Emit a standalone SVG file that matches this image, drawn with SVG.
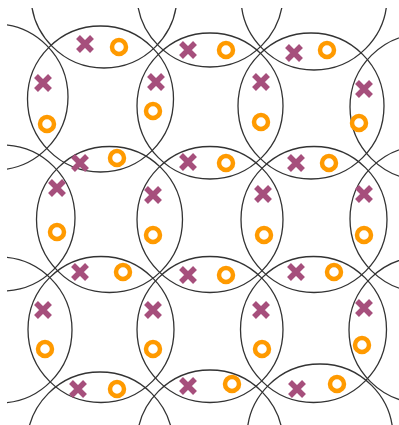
<svg xmlns="http://www.w3.org/2000/svg" width="399" height="425" viewBox="0 0 399 425">
<style>
.c{fill:none;stroke:#333;stroke-width:1.3}
.x{fill:none;stroke:#a64f7c;stroke-width:5.5}
.o{fill:none;stroke:#ff9a00;stroke-width:4.5}
</style>
<defs>
<clipPath id="clip"><rect x="7" y="8" width="392" height="417"/></clipPath>
<path id="xm" d="M-7,-7L7,7M7,-7L-7,7"/>
</defs>
<rect width="399" height="425" fill="#fff"/>
<g id="connectors" class="c" clip-path="url(#clip)">
<circle cx="104" cy="-5" r="73"/>
<circle cx="210" cy="-6" r="73"/>
<circle cx="314" cy="-3" r="73"/>
<circle cx="-5" cy="97" r="73"/>
<circle cx="100.5" cy="99" r="73"/>
<circle cx="210" cy="106" r="73"/>
<circle cx="311" cy="106" r="73"/>
<circle cx="423" cy="107" r="73"/>
<circle cx="2" cy="218" r="73"/>
<circle cx="109.5" cy="219.5" r="73"/>
<circle cx="210" cy="219.5" r="73"/>
<circle cx="314" cy="219.5" r="73"/>
<circle cx="423" cy="219" r="73"/>
<circle cx="-1" cy="330" r="73"/>
<circle cx="101" cy="329.5" r="73"/>
<circle cx="210" cy="329.5" r="73"/>
<circle cx="313.5" cy="329.5" r="73"/>
<circle cx="422" cy="330" r="73"/>
<circle cx="100" cy="445" r="73"/>
<circle cx="210" cy="443" r="73"/>
<circle cx="320" cy="437" r="73"/>
</g>
<g id="h0c0"><use href="#xm" class="x" x="85" y="44"/><circle class="o" cx="119" cy="47" r="7"/></g>
<g id="h0c1"><use href="#xm" class="x" x="188" y="50"/><circle class="o" cx="226" cy="50" r="7"/></g>
<g id="h0c2"><use href="#xm" class="x" x="294" y="53"/><circle class="o" cx="327" cy="50" r="7"/></g>
<g id="v0r0"><use href="#xm" class="x" x="43" y="83"/><circle class="o" cx="47" cy="124" r="7"/></g>
<g id="v1r0"><use href="#xm" class="x" x="156" y="82"/><circle class="o" cx="153" cy="111" r="7"/></g>
<g id="v2r0"><use href="#xm" class="x" x="261" y="82"/><circle class="o" cx="261" cy="122" r="7"/></g>
<g id="v3r0"><use href="#xm" class="x" x="364" y="89"/><circle class="o" cx="359" cy="123" r="7"/></g>
<g id="h1c0"><use href="#xm" class="x" x="80" y="163"/><circle class="o" cx="117" cy="158" r="7"/></g>
<g id="h1c1"><use href="#xm" class="x" x="188" y="162"/><circle class="o" cx="226" cy="163" r="7"/></g>
<g id="h1c2"><use href="#xm" class="x" x="296" y="163"/><circle class="o" cx="329" cy="163" r="7"/></g>
<g id="v0r1"><use href="#xm" class="x" x="57" y="188"/><circle class="o" cx="57" cy="232" r="7"/></g>
<g id="v1r1"><use href="#xm" class="x" x="153" y="195"/><circle class="o" cx="153" cy="235" r="7"/></g>
<g id="v2r1"><use href="#xm" class="x" x="263" y="194"/><circle class="o" cx="264" cy="235" r="7"/></g>
<g id="v3r1"><use href="#xm" class="x" x="364" y="194"/><circle class="o" cx="364" cy="235" r="7"/></g>
<g id="h2c0"><use href="#xm" class="x" x="80" y="272"/><circle class="o" cx="123" cy="272" r="7"/></g>
<g id="h2c1"><use href="#xm" class="x" x="188" y="275"/><circle class="o" cx="226" cy="275" r="7"/></g>
<g id="h2c2"><use href="#xm" class="x" x="296" y="272"/><circle class="o" cx="334" cy="272" r="7"/></g>
<g id="v0r2"><use href="#xm" class="x" x="43" y="310"/><circle class="o" cx="45" cy="349" r="7"/></g>
<g id="v1r2"><use href="#xm" class="x" x="153" y="310"/><circle class="o" cx="153" cy="349" r="7"/></g>
<g id="v2r2"><use href="#xm" class="x" x="261" y="310"/><circle class="o" cx="262" cy="349" r="7"/></g>
<g id="v3r2"><use href="#xm" class="x" x="364" y="308"/><circle class="o" cx="362" cy="345" r="7"/></g>
<g id="h3c0"><use href="#xm" class="x" x="78" y="389"/><circle class="o" cx="117" cy="389" r="7"/></g>
<g id="h3c1"><use href="#xm" class="x" x="188" y="386"/><circle class="o" cx="232" cy="384" r="7"/></g>
<g id="h3c2"><use href="#xm" class="x" x="297" y="389"/><circle class="o" cx="337" cy="384" r="7"/></g>
</svg>
